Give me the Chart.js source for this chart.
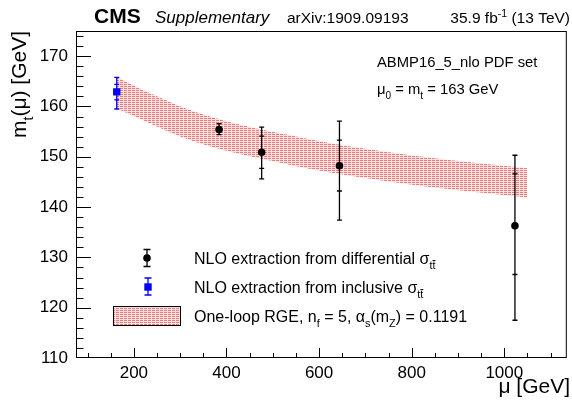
<!DOCTYPE html>
<html>
<head>
<meta charset="utf-8">
<script src="https://cdn.jsdelivr.net/npm/chart.js@4.4.0/dist/chart.umd.min.js"></script>
<style>
html, body { margin: 0; padding: 0; background: #fff; }
#wrap { position: relative; width: 572px; height: 405px; }
</style>
</head>
<body>
<div id="wrap"><canvas id="mtrun" width="572" height="405"></canvas></div>
<script>
// NLO extraction from differential xsec
const diffMu = [384, 476, 644, 1023];
const diffMt = [155.4, 150.9, 148.2, 136.3];
const diffErrUp = [1.2, 5.0, 8.9, 14.0];
const diffErrDn = [1.0, 5.3, 10.8, 18.8];
const diffInUp = [0, 3.2, 5.1, 10.3];
const diffInDn = [0, 3.2, 5.0, 9.7];

// NLO extraction from inclusive xsec
const inclMu = [163];
const inclMt = [162.9];
const inclErrUp = [2.9];
const inclErrDn = [3.4];
const inclInUp = [1.5];
const inclInDn = [1.6];

// one-loop RGE band edges
const bandMu = [163, 221, 293, 364, 436, 507, 579, 671, 743, 814, 886, 957, 1050];
const bandUp = [165.9, 163.2, 160.3, 158.0, 156.2, 154.8, 153.5, 152.0, 151.0, 150.1, 149.3, 148.6, 147.7];
const bandLo = [159.6, 157.2, 154.3, 152.1, 150.4, 149.0, 147.6, 146.2, 145.2, 144.3, 143.5, 142.8, 141.9];

const xTickVals = [200, 400, 600, 800, 1000];
const yTickVals = [110, 120, 130, 140, 150, 160, 170];

const FONT = '"Liberation Sans", Arial, Helvetica, sans-serif';
Chart.defaults.font.family = FONT;
Chart.defaults.color = '#000';

const canvas = document.getElementById('mtrun');
const ctx = canvas.getContext('2d');

function makeHatch() {
  const c = document.createElement('canvas');
  c.width = 4; c.height = 2;
  const g = c.getContext('2d');
  g.fillStyle = '#fbe0e0';
  g.fillRect(0, 0, 4, 2);
  g.fillStyle = '#e97d7d';
  g.fillRect(0, 0, 3, 1);
  return ctx.createPattern(c, 'repeat');
}
const hatch = makeHatch();

// text with sub/superscripts: parts = [[text, mode]], mode '', 'sub', 'sup', 'bar'
function richWidth(g, parts, size, style) {
  let w = 0;
  parts.forEach(([t, m]) => {
    const s = m ? size * 0.68 : size;
    g.font = style + ' ' + s + 'px ' + FONT;
    w += g.measureText(t).width;
  });
  return w;
}
function drawRich(g, parts, x, y, size, align, style) {
  style = style || '';
  g.save();
  g.textAlign = 'left';
  g.textBaseline = 'alphabetic';
  g.fillStyle = '#000';
  if (align === 'right') x -= richWidth(g, parts, size, style);
  parts.forEach(([t, m]) => {
    const s = m ? size * 0.68 : size;
    g.font = style + ' ' + s + 'px ' + FONT;
    let yy = y;
    if (m === 'sub' || m === 'bar') yy = y + size * 0.32;
    if (m === 'sup') yy = y - size * 0.4;
    g.fillText(t, x, yy);
    const w = g.measureText(t).width;
    if (m === 'bar') {
      const w1 = g.measureText(t.slice(0, -1)).width;
      g.strokeStyle = '#000';
      g.lineWidth = 1;
      g.beginPath();
      g.moveTo(x + w1, yy - s * 0.78);
      g.lineTo(x + w, yy - s * 0.78);
      g.stroke();
    }
    x += w;
  });
  g.restore();
}

function errBar(g, px, pc, pUp, pDn, iUp, iDn, cap, color) {
  g.strokeStyle = color;
  g.lineWidth = 1.3;
  g.beginPath();
  g.moveTo(px, pUp); g.lineTo(px, pDn);
  g.moveTo(px - cap, pUp); g.lineTo(px + cap, pUp);
  g.moveTo(px - cap, pDn); g.lineTo(px + cap, pDn);
  if (iUp !== null) {
    g.moveTo(px - cap, iUp); g.lineTo(px + cap, iUp);
    g.moveTo(px - cap, iDn); g.lineTo(px + cap, iDn);
  }
  g.stroke();
}

const rootStyle = {
  id: 'rootStyle',
  beforeDatasetDraw(chart, args) {
    if (args.index !== 1) return;
    const g = chart.ctx, xs = chart.scales.x, ys = chart.scales.y;
    g.save();
    diffMu.forEach((mu, i) => {
      const px = xs.getPixelForValue(mu);
      errBar(g, px, ys.getPixelForValue(diffMt[i]),
        ys.getPixelForValue(diffMt[i] + diffErrUp[i]), ys.getPixelForValue(diffMt[i] - diffErrDn[i]),
        diffInUp[i] ? ys.getPixelForValue(diffMt[i] + diffInUp[i]) : null,
        ys.getPixelForValue(diffMt[i] - diffInDn[i]), 2.5, '#000');
    });
    inclMu.forEach((mu, i) => {
      const px = xs.getPixelForValue(mu);
      errBar(g, px, ys.getPixelForValue(inclMt[i]),
        ys.getPixelForValue(inclMt[i] + inclErrUp[i]), ys.getPixelForValue(inclMt[i] - inclErrDn[i]),
        ys.getPixelForValue(inclMt[i] + inclInUp[i]), ys.getPixelForValue(inclMt[i] - inclInDn[i]), 2.5, '#0000ff');
    });
    g.restore();
  },
  afterDraw(chart) {
    const g = chart.ctx, a = chart.chartArea, xs = chart.scales.x, ys = chart.scales.y;
    g.save();
    // frame + inward ticks
    g.strokeStyle = '#000';
    g.lineWidth = 1;
    g.strokeRect(a.left + 0.5, a.top + 0.5, a.right - a.left - 1, a.bottom - a.top - 1);
    g.beginPath();
    for (let v = 100; v <= 1100; v += 50) {
      const px = Math.round(xs.getPixelForValue(v)) + 0.5;
      const len = xTickVals.includes(v) ? 10 : 5;
      g.moveTo(px, a.bottom); g.lineTo(px, a.bottom - len);
    }
    for (let v = 112; v <= 174; v += 2) {
      const py = Math.round(ys.getPixelForValue(v)) + 0.5;
      const len = yTickVals.includes(v) ? 15 : 7.5;
      g.moveTo(a.left, py); g.lineTo(a.left + len, py);
    }
    g.stroke();

    // header
    g.fillStyle = '#000';
    g.font = 'bold 21px ' + FONT;
    g.fillText('CMS', 94, 23);
    g.font = 'italic 17px ' + FONT;
    g.fillText('Supplementary', 155, 23);
    g.font = '15.5px ' + FONT;
    g.fillText('arXiv:1909.09193', 287, 23);
    drawRich(g, [['35.9 fb', ''], ['-1', 'sup'], [' (13 TeV)', '']], 570, 23, 15.5, 'right');

    // axis titles
    drawRich(g, [['\u03bc [GeV]', '']], 570, 393, 21, 'right');
    g.save();
    g.translate(26, 31);
    g.rotate(-Math.PI / 2);
    drawRich(g, [['m', ''], ['t', 'sub'], ['(\u03bc) [GeV]', '']], 0, 0, 21, 'right');
    g.restore();

    // annotation
    drawRich(g, [['ABMP16_5_nlo PDF set', '']], 377, 67, 14.8, 'left');
    drawRich(g, [['\u03bc', ''], ['0', 'sub'], [' = m', ''], ['t', 'sub'], [' = 163 GeV', '']], 377, 94, 14.8, 'left');

    // legend
    errBar(g, 147, 258, 249.5, 266.5, null, null, 3.5, '#000');
    g.fillStyle = '#000';
    g.beginPath(); g.arc(147, 258, 3.8, 0, Math.PI * 2); g.fill();
    drawRich(g, [['NLO extraction from differential \u03c3', ''], ['tt', 'bar']], 194, 264, 16, 'left');

    errBar(g, 148, 287, 278, 295, null, null, 3.5, '#0000ff');
    g.fillStyle = '#0000ff';
    g.fillRect(144.3, 283.3, 7.4, 7.4);
    drawRich(g, [['NLO extraction from inclusive \u03c3', ''], ['tt', 'bar']], 194, 293, 16, 'left');

    g.fillStyle = hatch;
    g.fillRect(113.5, 306.5, 67, 19);
    g.strokeStyle = '#000';
    g.lineWidth = 1;
    g.strokeRect(113.5, 306.5, 67, 19);
    drawRich(g, [['One-loop RGE, n', ''], ['f', 'sub'], [' = 5, \u03b1', ''], ['s', 'sub'], ['(m', ''], ['Z', 'sub'], [') = 0.1191', '']], 194, 322, 16, 'left');
    g.restore();
  }
};

new Chart(ctx, {
  type: 'scatter',
  data: {
    datasets: [
      {
        label: 'differential',
        data: diffMu.map((x, i) => ({ x: x, y: diffMt[i] })),
        pointStyle: 'circle', pointRadius: 3.8, backgroundColor: '#000', borderWidth: 0
      },
      {
        label: 'inclusive',
        data: inclMu.map((x, i) => ({ x: x, y: inclMt[i] })),
        pointStyle: 'rect', pointRadius: 5.2, backgroundColor: '#0000ff', borderWidth: 0
      },
      {
        label: 'RGE up', type: 'line',
        data: bandMu.map((x, i) => ({ x: x, y: bandUp[i] })),
        borderWidth: 0, borderColor: 'transparent', pointRadius: 0,
        fill: '+1', backgroundColor: hatch, cubicInterpolationMode: 'monotone'
      },
      {
        label: 'RGE down', type: 'line',
        data: bandMu.map((x, i) => ({ x: x, y: bandLo[i] })),
        borderWidth: 0, borderColor: 'transparent', pointRadius: 0,
        fill: false, cubicInterpolationMode: 'monotone'
      }
    ]
  },
  options: {
    responsive: false,
    animation: false,
    layout: { padding: { top: 31, right: 2, left: 0, bottom: 0 } },
    plugins: { legend: { display: false }, tooltip: { enabled: false } },
    scales: {
      x: {
        type: 'linear', min: 75, max: 1135,
        grid: { display: false, drawTicks: false }, border: { display: false },
        afterFit: (s) => { s.height = 47; },
        afterBuildTicks: (s) => { s.ticks = xTickVals.map(v => ({ value: v })); },
        ticks: { font: { size: 17 }, color: '#000', padding: 5, maxRotation: 0, autoSkip: false,
                 callback: (v) => String(v) }
      },
      y: {
        type: 'linear', min: 110, max: 175,
        grid: { display: false, drawTicks: false }, border: { display: false },
        afterFit: (s) => { s.width = 76; },
        afterBuildTicks: (s) => { s.ticks = yTickVals.map(v => ({ value: v })); },
        ticks: { font: { size: 17 }, color: '#000', padding: 8, autoSkip: false,
                 callback: (v) => String(v) }
      }
    }
  },
  plugins: [rootStyle]
});
</script>
</body>
</html>
